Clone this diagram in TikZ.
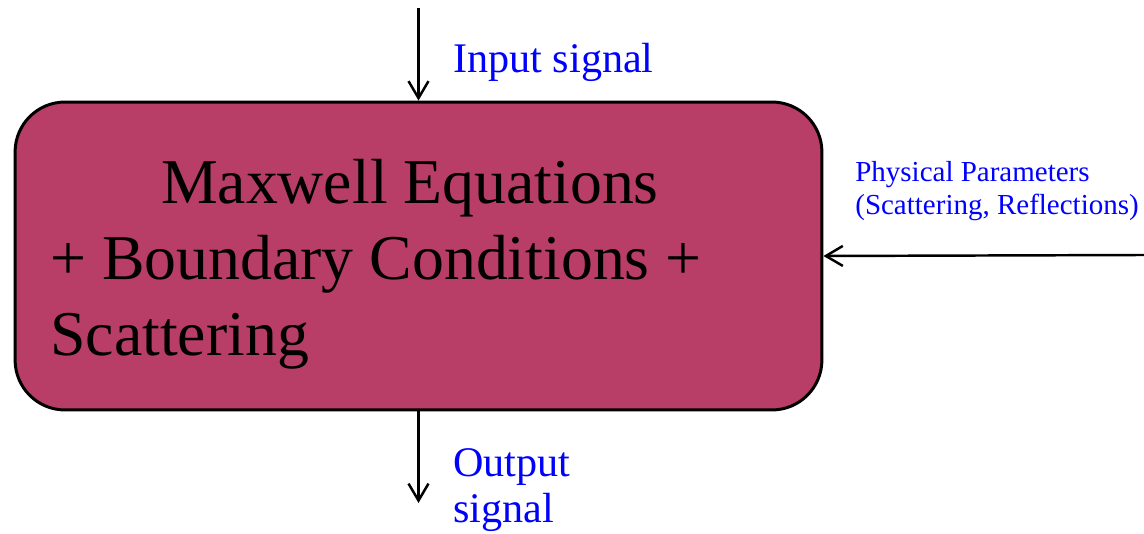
\documentclass[tikz,border=0pt]{standalone}
\usepackage{fontspec}
\setmainfont{Liberation Serif}
\usepackage{tikz}
\usetikzlibrary{arrows.meta,positioning}
\definecolor{blockred}{RGB}{185,62,103}

\begin{document}
\begin{tikzpicture}[x=0.02cm, y=0.02cm, every node/.style={inner sep=0pt},
  arr/.style={line width=1.4pt, -{Straight Barb[length=3.4mm, width=4mm]}},
  lbl/.style={text=blue, anchor=base west, align=left}]
\useasboundingbox (0,0) rectangle (1144,534);

% System block
\node[draw, line width=1.7pt, fill=blockred, rounded corners=1cm,
  minimum width=16.14cm, minimum height=6.16cm] (sys) at (418.5,278) {};
\node[anchor=base west, align=left, font=\fontsize{36.3}{43.5}\selectfont] (eqn) at (50,178)
  {\hspace*{63pt}Maxwell Equations\\+ Boundary Conditions +\\Scattering};

% Input
\coordinate (inTop) at (418.5,526);
\draw[arr] (inTop) -- (sys.north);
\node[lbl, font=\fontsize{24}{26}\selectfont] (inLbl) at (453,461) {Input signal};

% Output
\coordinate (outEnd) at (418.5,31);
\draw[arr] (sys.south) -- (outEnd);
\node[lbl, font=\fontsize{24}{26.6}\selectfont] (outLbl) at (453,11) {Output\\signal};

% Physical parameters
\coordinate (parEnd) at (1144,279);
\draw[arr] (parEnd) -- (sys.east);
\node[lbl, font=\fontsize{16.5}{19.3}\selectfont] (parLbl) at (855,319)
  {Physical Parameters\\(Scattering, Reflections)};

\end{tikzpicture}
\end{document}
